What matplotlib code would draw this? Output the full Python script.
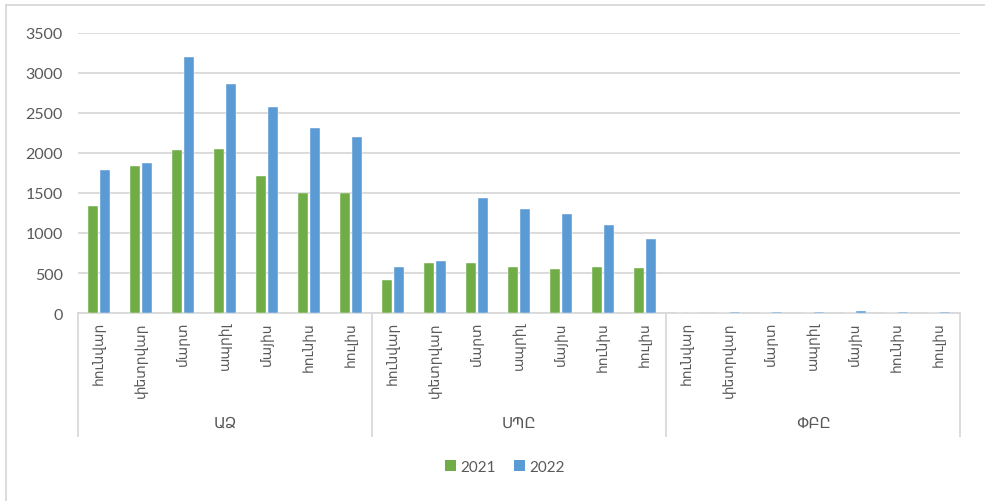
import matplotlib
matplotlib.use("Agg")
import matplotlib.pyplot as plt
from matplotlib.lines import Line2D
from matplotlib.patches import Patch
import numpy as np

plt.rcParams['font.family'] = ['Lato', 'DejaVu Sans']

groups = ["ԱՁ", "ՍՊԸ", "ՓԲԸ"]
months = ["հունվար", "փետրվար", "մարտ", "ապրիլ", "մայիս", "հունիս", "հուլիս"]
series_names = ["2021", "2022"]
values_2021 = [1335, 1837, 2037, 2050, 1712, 1500, 1500,
               410, 629, 621, 575, 546, 575, 562,
               2, 3, 6, 3, 5, 4, 3]
values_2022 = [1787, 1875, 3205, 2862, 2580, 2312, 2200,
               571, 646, 1437, 1296, 1241, 1096, 929,
               4, 9, 9, 8, 26, 18, 13]
y_ticks = [0, 500, 1000, 1500, 2000, 2500, 3000, 3500]

green = "#70ad47"
blue = "#5b9bd5"
grid_c = "#d9d9d9"
text_c = "#595959"

W, H = 985, 502
fig = plt.figure(figsize=(W / 100, H / 100), dpi=100)
left_px, right_px, top_px, bot_px = 78, 960, 34, 314
ax = fig.add_axes([left_px / W, 1 - bot_px / H, (right_px - left_px) / W, (bot_px - top_px) / H])

n = len(values_2021)
x = np.arange(n)
bw = 0.225
off = 0.143
ax.bar(x - off, values_2021, width=bw, color=green, edgecolor="white", linewidth=0.3, zorder=3)
ax.bar(x + off, values_2022, width=bw, color=blue, edgecolor="white", linewidth=0.3, zorder=3)

ax.set_xlim(-0.5, n - 0.5)
ax.set_ylim(0, 3500)
ax.set_yticks(y_ticks)
ax.set_yticklabels([str(t) for t in y_ticks], fontsize=11.5, color=text_c)
ax.tick_params(axis='y', length=0, pad=11)
ax.yaxis.grid(True, color=grid_c, linewidth=1.3, zorder=0)
ax.set_axisbelow(True)
for s in ["top", "right", "left"]:
    ax.spines[s].set_visible(False)
ax.spines["bottom"].set_color(grid_c)
ax.spines["bottom"].set_linewidth(1.3)
ax.set_xticks([])

# month labels
trans = ax.get_xaxis_transform()
for i in range(n):
    ax.text(x[i], -8 / (bot_px - top_px), months[i % 7], rotation=90, ha='center', va='top',
            fontsize=10, color=text_c, transform=trans, family='DejaVu Sans')

# group separators and labels
sep_bottom = -(437 - 314) / (bot_px - top_px)
for g in range(len(groups) + 1):
    xv = g * 7 - 0.5
    ax.add_line(Line2D([xv, xv], [0, sep_bottom], transform=trans, color=grid_c,
                       linewidth=1.3, clip_on=False))
for g, name in enumerate(groups):
    ax.text(g * 7 + 3, -(423 - 314) / (bot_px - top_px), name, ha='center', va='center',
            fontsize=11, color=text_c, transform=trans, family='DejaVu Sans')

# legend
handles = [Patch(facecolor=green, edgecolor='none'), Patch(facecolor=blue, edgecolor='none')]
fig.legend(handles, series_names, loc='center', bbox_to_anchor=(0.513, 1 - 468 / H), ncol=2,
           frameon=False, fontsize=11, handlelength=0.7, handleheight=0.7,
           handletextpad=0.3, columnspacing=1.2, labelcolor=text_c)

# chart border
fig.add_artist(Line2D([6 / W, 6 / W], [0, 1 - 5.5 / H], transform=fig.transFigure, color=grid_c, linewidth=1.3))
fig.add_artist(Line2D([6 / W, 1], [1 - 5.5 / H, 1 - 5.5 / H], transform=fig.transFigure, color=grid_c, linewidth=1.3))

fig.savefig("out.png", dpi=100, facecolor="white")
